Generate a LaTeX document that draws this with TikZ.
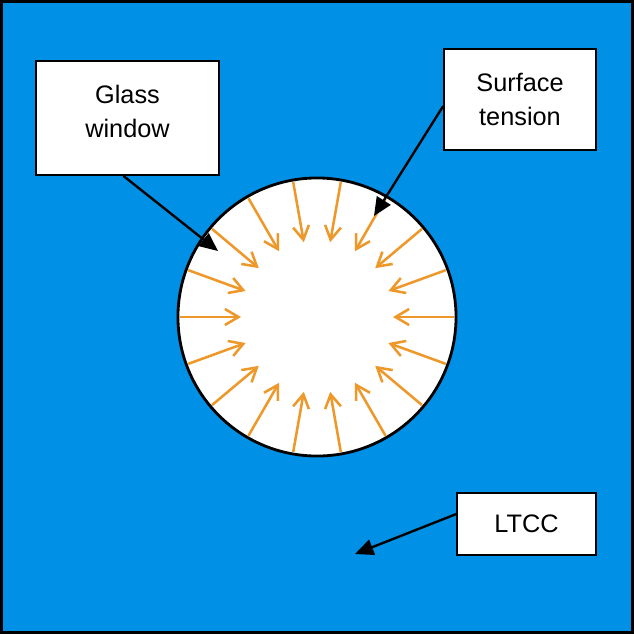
\documentclass[tikz,border=0pt]{standalone}
\usepackage{fontspec}
\setmainfont{Liberation Sans}
\usetikzlibrary{arrows.meta}
\definecolor{ltccblue}{RGB}{0,145,230}
\definecolor{pullorange}{RGB}{238,152,42}
\tikzset{
  labelbox/.style={draw=black, fill=white, line width=1.3pt, align=center,
    font=\fontsize{18}{24}\selectfont, inner sep=0pt},
  pointer/.style={-{Triangle[length=4.6mm,width=4mm]}, line width=1.7pt},
  pull/.style={-{Straight Barb[length=3.4mm,width=4mm]}, pullorange, line width=1.8pt}
}
\begin{document}
\begin{tikzpicture}[x=0.025cm,y=-0.025cm]
    \useasboundingbox (0,0) rectangle (634,634);
    \draw[fill=ltccblue, line width=2.1pt] (1.5,1.5) rectangle (632.5,632.5);
    % the window with the pull of surface tension
    \node[circle, draw, fill=white, line width=2pt, minimum size=6.95cm] (window) at (317,317) {};
    \foreach \a in {0,20,...,340} {
      \draw[pull] (317,317) ++(\a:137) -- ++(\a+180:61);
    }
    % labels
    \node[labelbox, minimum width=4.575cm, minimum height=2.85cm, text depth=0.35cm] (glass) at (127.5,118) {Glass\\window};
    \node[labelbox, minimum width=3.8cm, minimum height=2.525cm] (surface) at (520,99.5) {Surface\\tension};
    \node[labelbox, minimum width=3.475cm, minimum height=1.55cm] (ltcc) at (526.5,524) {LTCC};
    \coordinate (glasstip) at (218,251);
    \coordinate (surfacetip) at (374,216);
    \coordinate (ltcctip) at (355,554);
    \draw[pointer] (glass.-94) -- (glasstip);
    \draw[pointer] (surface.185) -- (surfacetip);
    \draw[pointer] (ltcc.172) -- (ltcctip);
  \end{tikzpicture}
\end{document}
